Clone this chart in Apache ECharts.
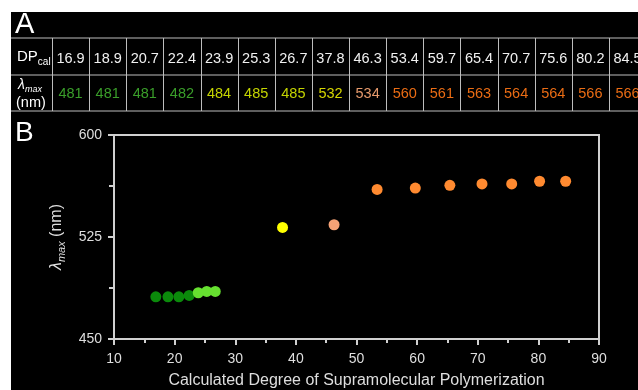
<!DOCTYPE html>
<html>
<head>
<meta charset="utf-8">
<script src="https://cdn.jsdelivr.net/npm/echarts@6/dist/echarts.min.js"></script>
<style>
  html, body { margin: 0; padding: 0; background: #ffffff; }
  #wrap { position: absolute; left: 0; top: 0; width: 638px; height: 390px; background: #ffffff; overflow: hidden; }
  #chart { position: absolute; left: 11px; top: 12px; width: 627px; height: 378px; background: #000000; }
</style>
</head>
<body>
<div id="wrap"><div id="chart"></div></div>
<script>
// Calculated degree of supramolecular polymerization (DP_cal)
const dpCal = [16.9, 18.9, 20.7, 22.4, 23.9, 25.3, 26.7, 37.8, 46.3, 53.4, 59.7, 65.4, 70.7, 75.6, 80.2, 84.5];
// Absorption maximum for each sample (nm)
const lambdaMax = [481, 481, 481, 482, 484, 485, 485, 532, 534, 560, 561, 563, 564, 564, 566, 566];

// Axis ticks
const xTicks = [10, 20, 30, 40, 50, 60, 70, 80, 90];
const yTicks = [450, 525, 600];

// Colours per sample: table text and scatter dot
const textColors = ['#3a9e2a', '#3a9e2a', '#3a9e2a', '#3a9e2a',
  '#c4d400', '#c4d400', '#c4d400', '#d6d600', '#e69a6c',
  '#ea6c14', '#ea6c14', '#ea6c14', '#ea6c14', '#ea6c14', '#ea6c14', '#ea6c14'];
const dotColors = ['#0b8a0b', '#0b8a0b', '#0b8a0b', '#0b8a0b',
  '#66e030', '#66e030', '#66e030', '#ffff00', '#f6a276',
  '#ff8a30', '#ff8a30', '#ff8a30', '#ff8a30', '#ff8a30', '#ff8a30', '#ff8a30'];

const FONT = '"Liberation Sans", Arial, Helvetica, sans-serif';
const AXIS = '#d0d0d0';
const LINE = '#bdbdbd';

// Table geometry (chart pixels)
const tblTop = 26, tblMid = 63, tblBot = 99;
const colStart = 41, colW = 37.13;

const graphics = [];
// panel letters
graphics.push({ type: 'text', left: 4, top: -2, style: { text: 'A', fill: '#ffffff', font: '29px ' + FONT } });
graphics.push({ type: 'text', left: 4, top: 107, style: { text: 'B', fill: '#ffffff', font: '28px ' + FONT } });
// horizontal table rules
[tblTop, tblMid, tblBot].forEach(y => {
  graphics.push({ type: 'line', shape: { x1: 0, y1: y, x2: 640, y2: y }, style: { stroke: LINE, lineWidth: 1 } });
});
// vertical table rules
for (let i = 0; i < dpCal.length; i++) {
  const x = Math.round(colStart + i * colW) + 0.5;
  graphics.push({ type: 'line', shape: { x1: x, y1: tblTop, x2: x, y2: tblBot }, style: { stroke: LINE, lineWidth: 1 } });
}
// row headers
graphics.push({
  type: 'text', left: 6, top: 37,
  style: {
    text: '{a|DP}{b|cal}', fill: '#ffffff',
    rich: {
      a: { fontFamily: FONT, fontSize: 15, fill: '#ffffff', lineHeight: 18, verticalAlign: 'bottom' },
      b: { fontFamily: FONT, fontSize: 10, fill: '#ffffff', lineHeight: 18, verticalAlign: 'bottom', padding: [0, 0, -3, 0] }
    }
  }
});
graphics.push({
  type: 'text', left: 7, top: 66,
  style: {
    text: '{l|λ}{m|max}', fill: '#ffffff',
    rich: {
      l: { fontFamily: FONT, fontSize: 14, fontStyle: 'italic', fill: '#ffffff', lineHeight: 16, verticalAlign: 'bottom' },
      m: { fontFamily: FONT, fontSize: 9, fontStyle: 'italic', fill: '#ffffff', lineHeight: 16, verticalAlign: 'bottom', padding: [0, 0, -2, 0] }
    }
  }
});
graphics.push({ type: 'text', left: 5, top: 83, style: { text: '(nm)', fill: '#ffffff', font: '14.5px ' + FONT } });
// table cells
dpCal.forEach((v, i) => {
  const cx = colStart + (i + 0.5) * colW;
  graphics.push({ type: 'text', x: cx, y: 47, style: { text: v.toFixed(1), fill: '#f0f0f0', font: '14.5px ' + FONT, align: 'center', verticalAlign: 'middle' } });
  graphics.push({ type: 'text', x: cx, y: 82, style: { text: String(lambdaMax[i]), fill: textColors[i], font: '14.5px ' + FONT, align: 'center', verticalAlign: 'middle' } });
});

const chart = echarts.init(document.getElementById('chart'), null, { renderer: 'canvas' });
chart.setOption({
  backgroundColor: '#000000',
  animation: false,
  textStyle: { fontFamily: FONT },
  graphic: graphics,
  grid: {
    left: 103, top: 123, width: 485, height: 204,
    outerBoundsMode: 'none', containLabel: false,
    show: true, borderColor: AXIS, borderWidth: 2, backgroundColor: 'transparent'
  },
  xAxis: {
    type: 'value', min: xTicks[0], max: xTicks[xTicks.length - 1], interval: xTicks[1] - xTicks[0],
    name: 'Calculated Degree of Supramolecular Polymerization',
    nameLocation: 'middle', nameGap: 34,
    nameTextStyle: { color: '#dedede', fontSize: 16, fontFamily: FONT },
    axisLine: { show: true, lineStyle: { color: AXIS, width: 2 } },
    axisTick: { show: true, length: 6, lineStyle: { color: AXIS, width: 2 } },
    minorTick: { show: true, splitNumber: 2, length: 4, lineStyle: { color: AXIS, width: 2 } },
    splitLine: { show: false },
    axisLabel: { color: '#dedede', fontSize: 14, margin: 13, fontFamily: FONT }
  },
  yAxis: {
    type: 'value', min: yTicks[0], max: yTicks[yTicks.length - 1], interval: yTicks[1] - yTicks[0],
    name: '{l|λ}{m|max}{n| (nm)}',
    nameLocation: 'middle', nameGap: 39, nameRotate: 90,
    nameTextStyle: {
      color: '#dedede',
      rich: {
        l: { fontFamily: FONT, fontSize: 16, fontStyle: 'italic', color: '#dedede', lineHeight: 18, verticalAlign: 'bottom' },
        m: { fontFamily: FONT, fontSize: 11, fontStyle: 'italic', color: '#dedede', lineHeight: 18, verticalAlign: 'bottom', padding: [0, 0, -3, 0] },
        n: { fontFamily: FONT, fontSize: 16, color: '#dedede', lineHeight: 18, verticalAlign: 'bottom' }
      }
    },
    axisLine: { show: true, lineStyle: { color: AXIS, width: 2 } },
    axisTick: { show: true, length: 6, lineStyle: { color: AXIS, width: 2 } },
    minorTick: { show: true, splitNumber: 2, length: 5, lineStyle: { color: AXIS, width: 2 } },
    splitLine: { show: false },
    axisLabel: { color: '#dedede', fontSize: 14, margin: 12, fontFamily: FONT }
  },
  series: [{
    type: 'scatter',
    symbol: 'circle',
    symbolSize: 11,
    data: dpCal.map((x, i) => ({ value: [x, lambdaMax[i]], itemStyle: { color: dotColors[i], opacity: 1 } }))
  }]
});
</script>
</body>
</html>
